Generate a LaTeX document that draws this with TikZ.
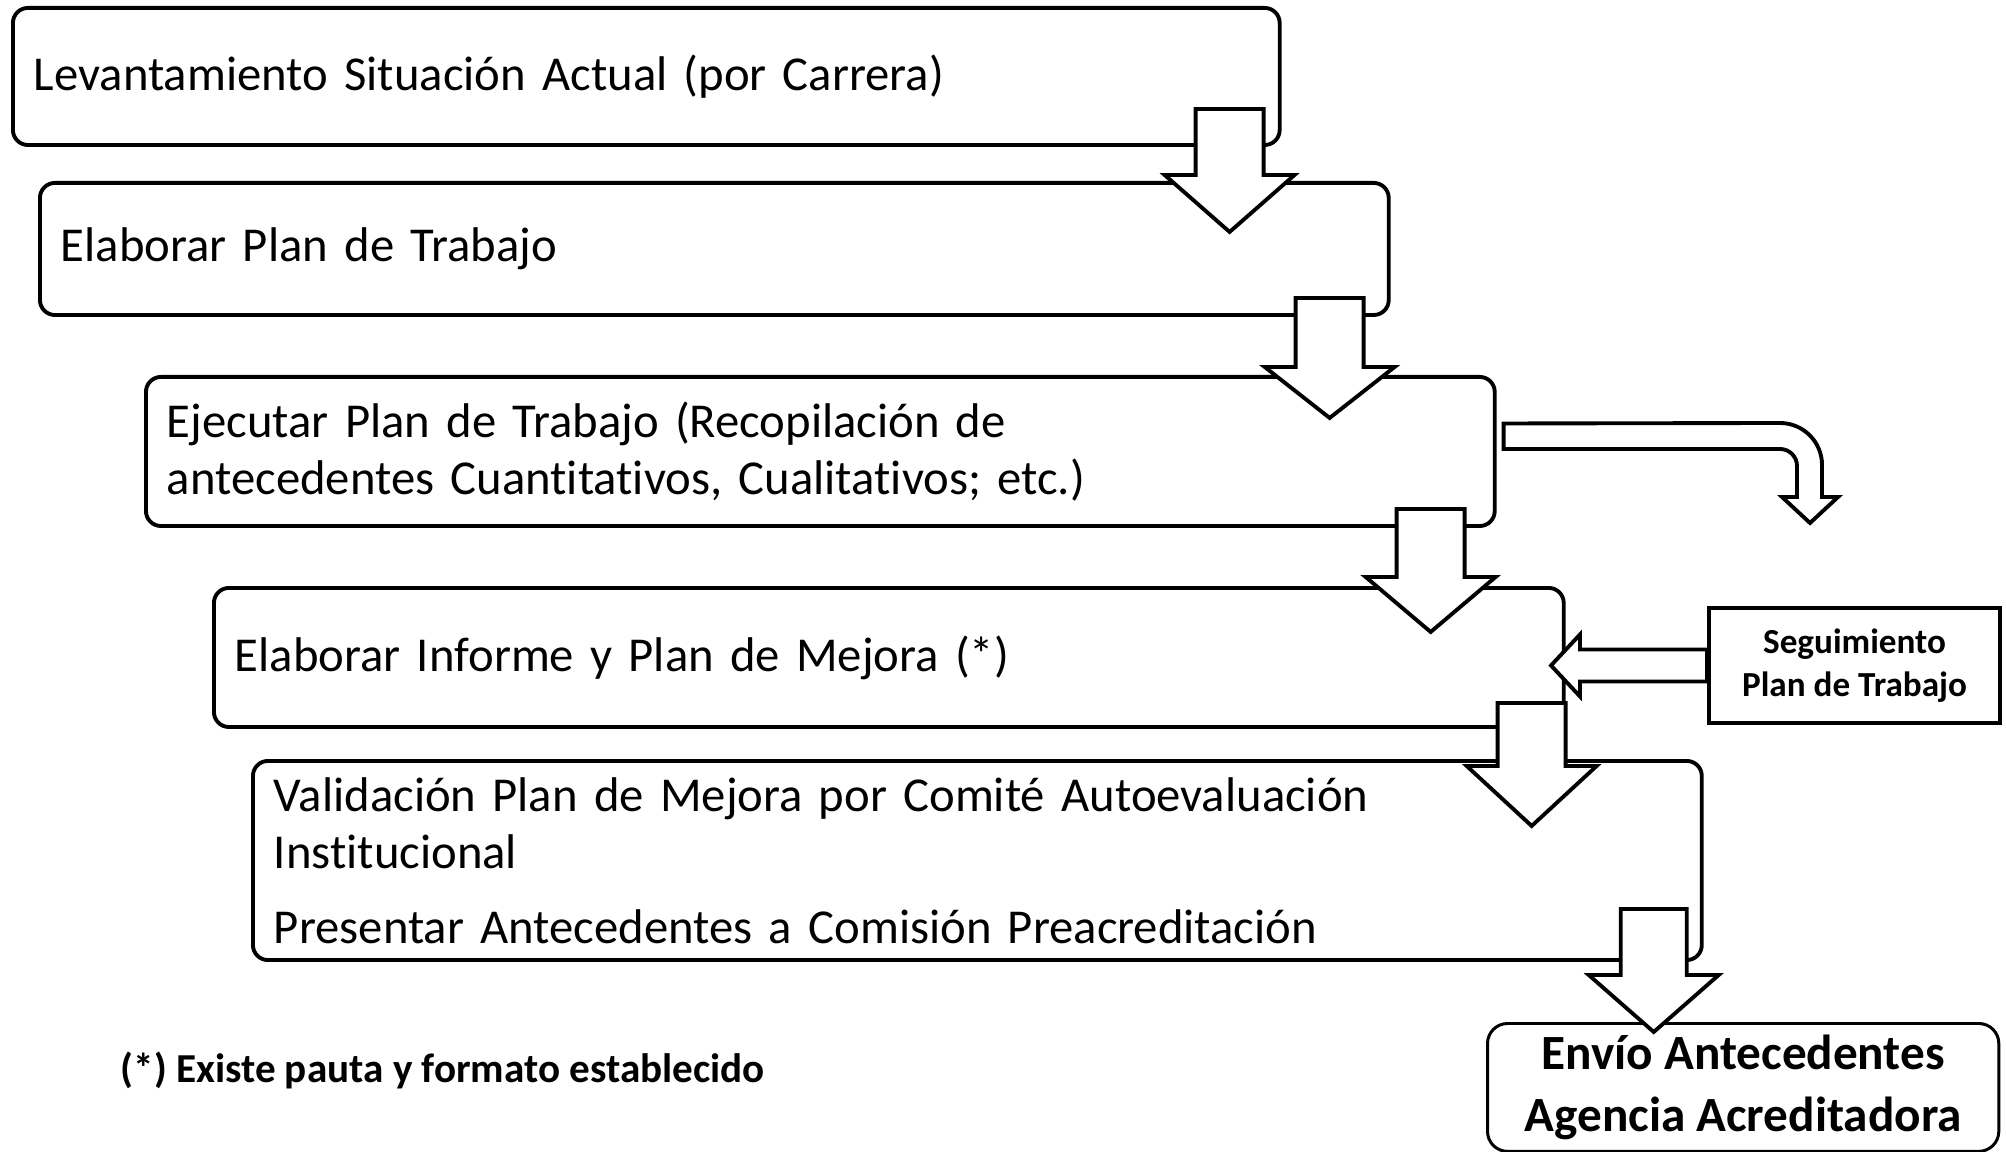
\documentclass[tikz,border=0pt]{standalone}
\usepackage{fontspec}
\setmainfont{Carlito}[Ligatures=NoCommon, UprightFeatures={WordSpace=0.8}]
\usepackage{tikz}
\tikzset{
    stepbox/.style={draw, line width=1.1pt, rounded corners=0.15cm, anchor=north west,
        align=left, inner xsep=0.21cm, font=\fontsize{13.85}{16.2}\selectfont},
    notebox/.style={draw, line width=1.1pt, anchor=north west, align=center,
        font=\bfseries\fontsize{10}{12.2}\selectfont},
    finalbox/.style={draw, line width=0.85pt, rounded corners=0.2cm, anchor=north west,
        align=center, font=\bfseries\fontsize{14}{17.5}\selectfont},
    blockarrow/.style={draw, fill=white, line width=1.1pt, line join=miter}}

\begin{document}
\begin{tikzpicture}[x=0.01cm, y=-0.01cm]
    \useasboundingbox (0,0) rectangle (2006,1152);

    % pasos
    \node[stepbox, text width=12.24cm, minimum height=1.37cm] (levant) at (11,6) {Levantamiento Situación Actual (por Carrera)};
    \node[stepbox, text width=13.06cm, minimum height=1.32cm] (elabplan) at (38,181) {Elaborar Plan de Trabajo};
    \node[stepbox, text width=13.06cm, minimum height=1.49cm] (ejecutar) at (144,375) {Ejecutar Plan de Trabajo (Recopilación de\\ antecedentes Cuantitativos, Cualitativos; etc.)};
    \node[stepbox, text width=13.07cm, minimum height=1.39cm] (informe) at (212,586) {Elaborar Informe y Plan de Mejora (*)};
    \node[stepbox, text width=14.06cm, minimum height=1.99cm] (valida) at (251,759) {Validación Plan de Mejora por Comité Autoevaluación\\ Institucional\\[0.18cm] Presentar Antecedentes a Comisión Preacreditación};

    \node[notebox, minimum width=2.91cm, minimum height=1.15cm] (seguim) at (1707,606) {Seguimiento\\ Plan de Trabajo};
    \node[finalbox, minimum width=5.11cm, minimum height=1.26cm] (envio) at (1486,1022) {Envío Antecedentes\\ Agencia Acreditadora};
    \node[anchor=west, inner sep=0pt, font=\bfseries\fontsize{11.7}{14}\selectfont] (pauta) at (120,1070) {(*) Existe pauta y formato establecido};

    % flechas entre pasos
    \draw[blockarrow] (levant.south east) ++(-86,-38) -- ++(68,0) -- ++(0,66) -- ++(31,0) -- ++(-65,57) -- ++(-65,-57) -- ++(31,0) -- cycle;
    \draw[blockarrow] (elabplan.south east) ++(-95,-19) -- ++(68,0) -- ++(0,69) -- ++(31,0) -- ++(-65,51) -- ++(-65,-51) -- ++(31,0) -- cycle;
    \draw[blockarrow] (ejecutar.south east) ++(-100,-19) -- ++(68,0) -- ++(0,68) -- ++(31,0) -- ++(-65,55) -- ++(-65,-55) -- ++(31,0) -- cycle;
    \draw[blockarrow] (informe.south east) ++(-68,-26) -- ++(68,0) -- ++(0,63) -- ++(31,0) -- ++(-65,60) -- ++(-65,-60) -- ++(31,0) -- cycle;
    \draw[blockarrow] (valida.south east) ++(-83,-53) -- ++(66,0) -- ++(0,66) -- ++(32,0) -- ++(-65,57) -- ++(-65,-57) -- ++(32,0) -- cycle;

    % seguimiento
    \draw[blockarrow] (seguim.west) ++(0,-16) -- ++(-127,0) -- ++(0,-15) -- ++(-29,31) -- ++(29,31) -- ++(0,-15) -- ++(127,0) -- cycle;
    \draw[blockarrow] (ejecutar.east) ++(7,-28) coordinate (salida) -- (1780,423) arc[start angle=90, end angle=0, radius=0.42cm]
        -- (1822,497) -- (1838,497) -- (1810,523) -- (1782,497) -- (1797,497) -- (1797,466)
        arc[start angle=0, end angle=90, radius=0.17cm] -- (salida |- 0,449) -- cycle;

\end{tikzpicture}
\end{document}
